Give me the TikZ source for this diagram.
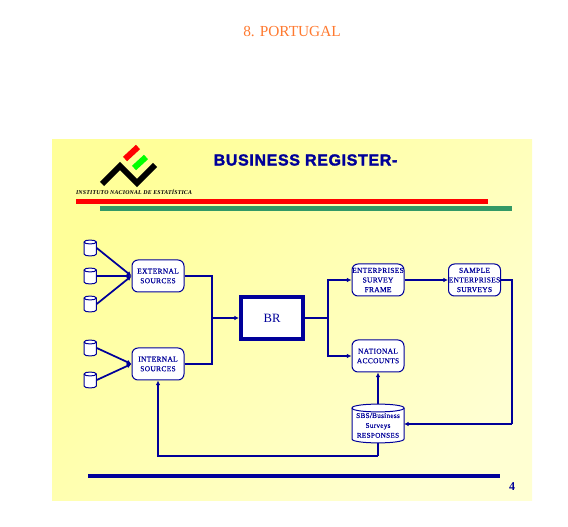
\documentclass[tikz,border=0pt]{standalone}
\usepackage{fontspec}
\setmainfont{Liberation Serif}
\newfontfamily\headfont[FakeBold=2,LetterSpace=4]{Liberation Sans Bold}
\newfontfamily\boxfont[FakeBold=0.2,LetterSpace=4]{Liberation Serif}
\newfontfamily\instfont[LetterSpace=3]{Liberation Serif Bold Italic}
\usetikzlibrary{arrows.meta}
\definecolor{navyb}{HTML}{000099}
\definecolor{panelA}{HTML}{FFFF99}
\definecolor{panelB}{HTML}{FFFFD2}
\definecolor{barGreen}{HTML}{339966}
\definecolor{orangeT}{HTML}{FF7A30}
\tikzset{
  x=0.75pt,y=-0.75pt,
  flow/.style={draw=navyb,line width=1.5pt,line join=miter,-{Latex[length=3.5pt,width=3.5pt]}},
  thinflow/.style={flow,line width=1.3pt},
  plain/.style={draw=navyb,line width=1.5pt},
  box/.style={draw=navyb,fill=white,line width=0.75pt,rounded corners=4.5pt,minimum width=39pt,minimum height=24pt,inner sep=0pt,align=center,text=navyb,font=\boxfont\fontsize{5.6}{7.2}\selectfont},
  dbsmall/.style={minimum width=9.4pt,minimum height=12pt,inner sep=0pt},
  dbbig/.style={minimum width=39pt,minimum height=29.25pt,inner sep=0pt,align=center,text=navyb,font=\boxfont\fontsize{5.4}{7.4}\selectfont},
  dbline/.style={draw=navyb,fill=white,line width=0.75pt},
}
% centre x, centre y, half width, half height, cap radius
\newcommand{\dbshape}[5]{%
  \draw[dbline] (#1-#3,#2-#4+#5) .. controls (#1-#3,#2-#4-0.3*#5) and (#1+#3,#2-#4-0.3*#5) .. (#1+#3,#2-#4+#5)
    -- (#1+#3,#2+#4-#5) .. controls (#1+#3,#2+#4+0.3*#5) and (#1-#3,#2+#4+0.3*#5) .. (#1-#3,#2+#4-#5) -- cycle;
  \draw[dbline,fill=none] (#1-#3,#2-#4+#5) .. controls (#1-#3,#2-#4+2.3*#5) and (#1+#3,#2-#4+2.3*#5) .. (#1+#3,#2-#4+#5);
}
\begin{document}
\begin{tikzpicture}
\useasboundingbox (0,0) rectangle (568,527);
\fill[white] (0,0) rectangle (568,527);
\shade[left color=panelA,right color=panelB,shading angle=45] (52,140) rectangle (532,500);
\node[text=orangeT,font=\fontsize{11.5}{13}\selectfont] (title) at (292,32) {8. PORTUGAL};
% logo
\draw[black,line width=4.5pt,line join=miter] (102,184) -- (120,166) -- (137,183) -- (155,165);
\draw[red,line width=4.5pt] (125,159) -- (138,147);
\draw[green,line width=4.5pt] (134,168) -- (146,157);
\node[inner sep=0pt,font=\instfont\fontsize{4.4}{5}\selectfont] (inst) at (134,192) {INSTITUTO NACIONAL DE ESTATÍSTICA};
\node[inner sep=0pt,text=navyb,font=\headfont\fontsize{12}{14}\selectfont] (head) at (305.5,160) {BUSINESS REGISTER-};
\fill[red] (76,199) rectangle (488,204);
\fill[barGreen] (100,206) rectangle (512,211);
\fill[navyb] (88,474) rectangle (500,478);
\node[text=navyb,font=\fontsize{9}{10}\selectfont\bfseries] (pg) at (512,487) {4};
% sources
\dbshape{90.2}{248}{6.2}{8}{2}
\dbshape{90.2}{276}{6.2}{8}{2}
\dbshape{90.2}{304}{6.2}{8}{2}
\dbshape{90.2}{348}{6.2}{8}{2}
\dbshape{90.2}{380}{6.2}{8}{2}
\node[dbsmall] (s1) at (90.2,248) {};
\node[dbsmall] (s2) at (90.2,276) {};
\node[dbsmall] (s3) at (90.2,304) {};
\node[dbsmall] (s4) at (90.2,348) {};
\node[dbsmall] (s5) at (90.2,380) {};
\node[box] (ext) at (158,276) {EXTERNAL\\SOURCES};
\node[box] (int) at (158,364) {INTERNAL\\SOURCES};
\node[draw=navyb,fill=white,line width=3pt,minimum width=46.5pt,minimum height=32pt,inner sep=0pt,text=navyb,font=\fontsize{9.5}{11}\selectfont] (br) at (272,318) {BR};
\node[box] (ent) at (378,280) {ENTERPRISES\\SURVEY\\FRAME};
\node[box] (sam) at (474.5,280) {SAMPLE\\ENTERPRISES\\SURVEYS};
\node[box] (nat) at (378,356) {NATIONAL\\ACCOUNTS};
\dbshape{378}{423.5}{26}{19.5}{4}
\node[dbbig] (res) at (378,425.5) {SBS/Business\\Surveys\\RESPONSES};
\coordinate (resTop) at (378,404);
\coordinate (resBot) at (378,443);
\coordinate (joinL) at (212,318);
\coordinate (joinR) at (328,318);
\coordinate (turnS) at (512,424);
\coordinate (turnE) at (404,424);
\coordinate (turnB) at (378,456);
\foreach \a in {s1,s2,s3}{\draw[thinflow] (\a.east) -- (ext.west);}
\foreach \a in {s4,s5}{\draw[thinflow] (\a.east) -- (int.west);}
\draw[plain] (ext.east) -| (joinL);
\draw[plain] (int.east) -| (joinL);
\draw[flow] (joinL) -- (br.west);
\draw[plain] (br.east) -- (joinR);
\draw[flow] (joinR) |- (ent.west);
\draw[flow] (joinR) |- (nat.west);
\draw[flow] (ent.east) -- (sam.west);
\draw[plain] (sam.east) -| (turnS);
\draw[flow] (turnS) -- (turnE);
\draw[flow] (resTop) -- (nat.south);
\draw[plain] (resBot) -- (turnB);
\draw[flow] (turnB) -| (int.south);
\end{tikzpicture}
\end{document}
